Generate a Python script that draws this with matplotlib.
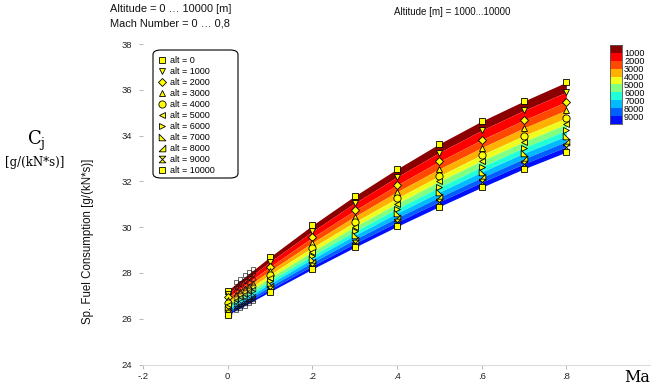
import numpy as np
import matplotlib
matplotlib.use("Agg")
import matplotlib.pyplot as plt
from matplotlib.patches import Rectangle, FancyBboxPatch

# ---------------- data ----------------
mach = [0.0, 0.1, 0.2, 0.3, 0.4, 0.5, 0.6, 0.7, 0.8]
altitudes = [0, 1000, 2000, 3000, 4000, 5000, 6000, 7000, 8000, 9000, 10000]

sfc_0     = [27.23, 28.70, 30.08, 31.36, 32.54, 33.64, 34.63, 35.51, 36.33]
sfc_1000  = [27.08, 28.49, 29.81, 31.05, 32.19, 33.26, 34.23, 35.10, 35.90]
sfc_2000  = [26.93, 28.27, 29.55, 30.73, 31.84, 32.87, 33.82, 34.68, 35.48]
sfc_3000  = [26.81, 28.09, 29.32, 30.46, 31.54, 32.54, 33.47, 34.33, 35.11]
sfc_4000  = [26.69, 27.93, 29.11, 30.22, 31.26, 32.24, 33.16, 34.00, 34.77]
sfc_5000  = [26.59, 27.79, 28.93, 30.02, 31.03, 32.00, 32.90, 33.73, 34.50]
sfc_6000  = [26.50, 27.65, 28.76, 29.81, 30.81, 31.75, 32.64, 33.47, 34.23]
sfc_7000  = [26.41, 27.53, 28.61, 29.64, 30.61, 31.53, 32.41, 33.23, 33.98]
sfc_8000  = [26.33, 27.41, 28.46, 29.46, 30.41, 31.31, 32.17, 32.99, 33.74]
sfc_9000  = [26.25, 27.29, 28.31, 29.29, 30.22, 31.11, 31.96, 32.77, 33.51]
sfc_10000 = [26.17, 27.18, 28.17, 29.12, 30.03, 30.90, 31.74, 32.55, 33.28]

# dense low-Mach samples (hollow markers)
mach_low = [0.02, 0.03, 0.04, 0.05, 0.06]
low_0     = [27.60, 27.75, 27.90, 28.05, 28.19]
low_1000  = [27.36, 27.50, 27.64, 27.79, 27.93]
low_2000  = [27.20, 27.33, 27.47, 27.60, 27.73]
low_3000  = [27.07, 27.19, 27.32, 27.45, 27.58]
low_4000  = [26.94, 27.06, 27.19, 27.31, 27.43]
low_5000  = [26.83, 26.95, 27.07, 27.19, 27.31]
low_6000  = [26.73, 26.85, 26.96, 27.08, 27.19]
low_7000  = [26.63, 26.75, 26.86, 26.97, 27.08]
low_8000  = [26.55, 26.65, 26.76, 26.87, 26.98]
low_9000  = [26.46, 26.56, 26.67, 26.77, 26.87]
low_10000 = [26.37, 26.47, 26.57, 26.68, 26.78]

band_colors = ['#8B0000', '#FF0000', '#FF4800', '#FFB000', '#EEFF20',
               '#80FF80', '#20FFD8', '#00BBFF', '#0060FF', '#0010FF']
cbar_labels = ['1000', '2000', '3000', '4000', '5000', '6000', '7000', '8000', '9000']

x_ticks = [-0.2, 0.0, 0.2, 0.4, 0.6, 0.8]
x_tick_labels = ['-.2', '0', '.2', '.4', '.6', '.8']
y_ticks = [24, 26, 28, 30, 32, 34, 36, 38]

sfc = [sfc_0, sfc_1000, sfc_2000, sfc_3000, sfc_4000, sfc_5000,
       sfc_6000, sfc_7000, sfc_8000, sfc_9000, sfc_10000]
low = [low_0, low_1000, low_2000, low_3000, low_4000, low_5000,
       low_6000, low_7000, low_8000, low_9000, low_10000]

# ---------------- markers ----------------
tri_ll = [(-1, -1), (1, -1), (-1, 1), (-1, -1)]
tri_lr = [(-1, -1), (1, -1), (1, 1), (-1, -1)]
hourglass = [(-1, 1), (1, 1), (-1, -1), (1, -1), (-1, 1)]
markers = ['s', 'v', 'D', '^', 'o', '<', '>', tri_ll, tri_lr, hourglass, 's']
msizes = [4.8, 4.8, 4.0, 4.8, 5.2, 4.8, 4.8, 4.8, 4.8, 4.8, 4.8]

# ---------------- figure ----------------
W, H = 651, 390
fig = plt.figure(figsize=(W / 100, H / 100), dpi=100)
plt.rcParams['font.family'] = ['Liberation Sans', 'DejaVu Sans']

ax = fig.add_axes([143 / W, 1 - 364.5 / H, 1 - 143 / W, (364.5 - 44) / H])
ax.set_xlim(-0.2, 1.0)
ax.set_ylim(24, 38)

for i in range(len(band_colors)):
    ax.fill_between(mach, sfc[i + 1], sfc[i], color=band_colors[i],
                    linewidth=0, zorder=1)

for i, alt in enumerate(altitudes):
    ax.plot(mach_low, low[i], linestyle='none', marker=markers[i],
            markersize=msizes[i] * 0.7, markerfacecolor='none',
            markeredgecolor='#111111', markeredgewidth=0.45, zorder=2)

handles = []
for i, alt in enumerate(altitudes):
    h, = ax.plot(mach, sfc[i], linestyle='none', marker=markers[i],
                 markersize=msizes[i], markerfacecolor='#FFFF00',
                 markeredgecolor='black', markeredgewidth=0.6, zorder=3,
                 label=f'alt = {alt}')
    handles.append(h)

for s in ['top', 'right', 'left']:
    ax.spines[s].set_visible(False)
ax.spines['bottom'].set_color('#dddddd')
ax.spines['bottom'].set_linewidth(0.8)

ax.set_xticks(x_ticks)
ax.set_xticklabels(x_tick_labels)
ax.set_yticks(y_ticks)
ax.tick_params(axis='both', labelsize=6.8, colors='#aaaaaa', length=3,
               width=0.6, labelcolor='#222222')
ax.tick_params(axis='x', pad=2.5)
ax.tick_params(axis='y', pad=5)

fig.text(88 / W, 1 - 241 / H, 'Sp. Fuel Consumption [g/(kN*s)]', fontsize=8.3,
         rotation=90, va='center', ha='center', color='#111111')

# legend with manual rounded frame
frame = FancyBboxPatch((153 / W, 1 - 178 / H), 85 / W, 128 / H,
                       boxstyle='round,pad=0,rounding_size=0.012',
                       transform=fig.transFigure, facecolor='white',
                       edgecolor='black', linewidth=0.8, zorder=5,
                       clip_on=False)
ax.add_patch(frame)
leg = ax.legend(handles=handles, loc='upper left',
                bbox_to_anchor=(156 / W, 1 - 54 / H),
                bbox_transform=fig.transFigure, borderaxespad=0,
                fontsize=6.5, frameon=False,
                handlelength=0.9, handletextpad=0.4, labelspacing=0.22,
                borderpad=0.2, markerscale=1.0)
leg.set_zorder(6)

# ---------------- texts ----------------
fig.text(110 / W, 1 - 9 / H, 'Altitude = 0 \u2026 10000 [m]', fontsize=7.9,
         va='center', ha='left', color='#111111')
fig.text(110 / W, 1 - 24 / H, 'Mach Number = 0 \u2026 0,8', fontsize=7.9,
         va='center', ha='left', color='#111111')
fig.text(452 / W, 1 - 12 / H, 'Altitude [m] = 1000...10000', fontsize=7.0,
         va='center', ha='center', color='#111111')

fig.text(27 / W, 1 - 141 / H, r'C$_\mathregular{j}$', fontsize=13,
         family='DejaVu Serif', va='center', ha='left')
fig.text(5 / W, 1 - 162 / H, '[g/(kN*s)]', fontsize=8.5,
         family='DejaVu Serif', va='center', ha='left')
fig.text(650 / W, 1 - 378 / H, 'Ma', fontsize=11.5,
         family='DejaVu Serif', va='center', ha='right')

# ---------------- colour bar ----------------
cax = fig.add_axes([610 / W, 1 - 124 / H, 12 / W, 79 / H])
cax.set_xlim(0, 1)
cax.set_ylim(0, len(band_colors))
for i, c in enumerate(band_colors):
    cax.add_patch(Rectangle((0, len(band_colors) - 1 - i), 1, 1,
                            facecolor=c, edgecolor='none'))
for s in cax.spines.values():
    s.set_color('#555555')
    s.set_linewidth(0.6)
cax.set_xticks([])
cax.set_yticks(range(1, len(band_colors))[::-1])
cax.set_yticklabels(cbar_labels)
cax.yaxis.tick_right()
cax.tick_params(axis='y', length=0, labelsize=6.6, pad=1.5)

fig.savefig('out.png', dpi=100)
